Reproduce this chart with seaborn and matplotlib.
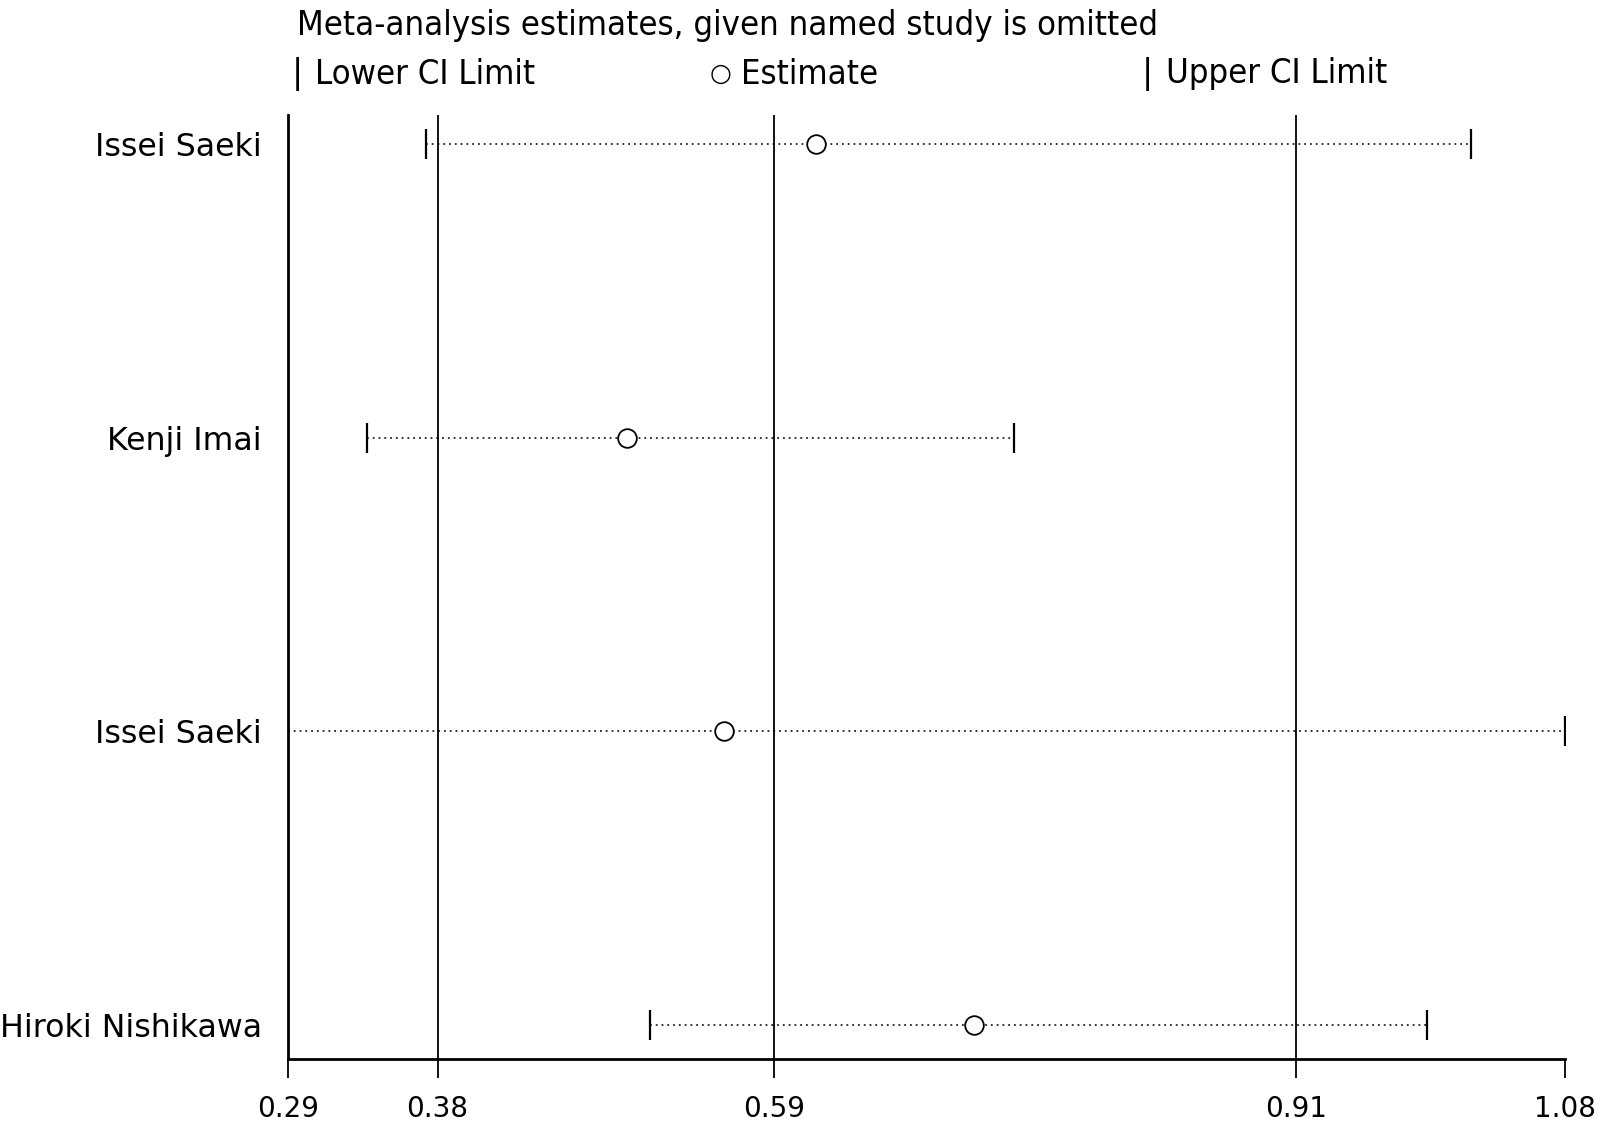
import numpy as np
import pandas as pd
import matplotlib
matplotlib.use("Agg")
import matplotlib.pyplot as plt
import seaborn as sns

# one row per omitted study (the name repeats, so rows are placed by index)
studies = ["Issei Saeki", "Kenji Imai", "Issei Saeki", "Hiroki Nishikawa"]
lower = [0.373, 0.3365, 0.2877, 0.511]
estimate = [0.614, 0.497, 0.557, 0.711]
upper = [1.018, 0.736, 1.0763, 0.991]

# full meta-analysis: lower CI, estimate, upper CI
overall = [0.38, 0.588, 0.91]
x_min, x_max = 0.2877, 1.0763

sns.set_style("white")
plt.rcParams["font.family"] = ["DejaVu Sans"]
plt.rcParams["text.color"] = "black"
plt.rcParams["xtick.color"] = "black"
plt.rcParams["ytick.color"] = "black"

df = pd.DataFrame({"row": np.arange(len(studies)), "study": studies,
                   "lower": lower, "estimate": estimate, "upper": upper})

fig = plt.figure(figsize=(16.04, 11.30), dpi=100)
ax = fig.add_axes([0.1796, 0.0630, 0.7961, 0.8356])

ax.hlines(df["row"], df["lower"], df["upper"], colors="#222222",
          linestyles=(0, (1, 2.2)), linewidth=1.3, zorder=1)
for v in overall:
    ax.axvline(v, color="black", linewidth=1.3, zorder=1)

sns.scatterplot(data=df, x="lower", y="row", marker="|", s=450,
                color="black", linewidth=1.6, ax=ax, zorder=3)
sns.scatterplot(data=df, x="upper", y="row", marker="|", s=450,
                color="black", linewidth=1.6, ax=ax, zorder=3)
sns.scatterplot(data=df, x="estimate", y="row", marker="o", s=180,
                facecolor="white", edgecolor="black", linewidth=1.3,
                ax=ax, zorder=4)

ax.set_xlim(x_min, x_max)
ax.set_ylim(3.115, -0.101)
ticks = [x_min] + overall + [x_max]
ax.set_xticks(ticks)
ax.set_xticklabels([f"{v:.2f}" for v in ticks])
ax.set_yticks(df["row"])
ax.set_yticklabels(studies)
ax.set_xlabel("")
ax.set_ylabel("")
ax.tick_params(axis="y", length=0, pad=19, labelsize=22.8)
ax.tick_params(axis="x", length=14, width=1.3, direction="out", pad=12,
               labelsize=20, bottom=True)

sns.despine(ax=ax, top=True, right=True)
for side in ["left", "bottom"]:
    ax.spines[side].set_linewidth(2)
    ax.spines[side].set_color("black")

cond = dict(fontsize=24.8, fontstretch="condensed", va="center")
fig.text(297 / 1604, 1 - 25 / 1130,
         "Meta-analysis estimates, given named study is omitted",
         ha="left", **cond)
ly = 1 - 74 / 1130
fig.text(297 / 1604, ly, "|", fontsize=24, ha="center", va="center")
fig.text(315 / 1604, ly, "Lower CI Limit", ha="left", **cond)
fig.text(721 / 1604, ly, "○", fontsize=18, ha="center", va="center")
fig.text(741 / 1604, ly, "Estimate", ha="left", **cond)
fig.text(1147 / 1604, ly, "|", fontsize=24, ha="center", va="center")
fig.text(1166 / 1604, ly, "Upper CI Limit", ha="left", **cond)

fig.savefig("out.png", dpi=100)
plt.close(fig)
